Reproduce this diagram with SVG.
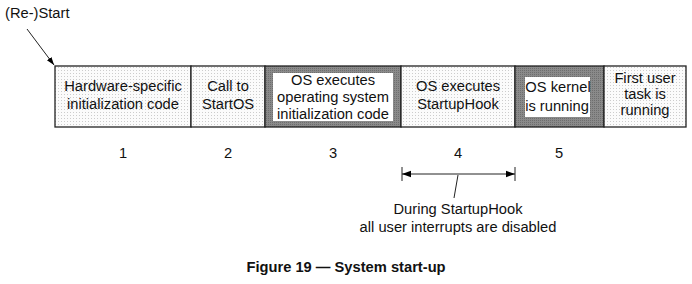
<svg xmlns="http://www.w3.org/2000/svg" width="692" height="284" viewBox="0 0 692 284">
<defs>
<pattern id="dots" width="3" height="3" patternUnits="userSpaceOnUse">
<rect width="3" height="3" fill="#fbfbfb"/>
<rect x="1" y="1" width="1" height="1" fill="#cccccc"/>
</pattern>
<pattern id="dark" width="2" height="2" patternUnits="userSpaceOnUse">
<rect width="2" height="2" fill="#8a8a8a"/>
<rect width="1" height="1" fill="#6e6e6e"/>
</pattern>
<marker id="ah" viewBox="0 0 10 10" refX="10" refY="5" markerWidth="8" markerHeight="8" orient="auto-start-reverse" markerUnits="userSpaceOnUse">
<path d="M0,1.5 L10,5 L0,8.5 z" fill="#000"/>
</marker>
<marker id="ah2" viewBox="0 0 10 10" refX="10" refY="5" markerWidth="12" markerHeight="9" orient="auto-start-reverse" markerUnits="userSpaceOnUse">
<path d="M0,1.5 L10,5 L0,8.5 z" fill="#000"/>
</marker>
</defs>
<style>
text{font-family:"Liberation Sans",Arial,sans-serif;font-size:14.7px;fill:#111;text-anchor:middle}
.box{stroke:#222;stroke-width:1.3}
.ln{stroke:#222;stroke-width:1;fill:none}
</style>
<rect width="692" height="284" fill="#fff"/>
<text x="5" y="18" style="text-anchor:start">(Re-)Start</text>
<g id="n1"><rect class="box" x="55" y="66" width="136" height="61" fill="url(#dots)"/>
<text x="123" y="91">Hardware-specific</text><text x="123" y="109">initialization code</text></g>
<g id="n2"><rect class="box" x="191" y="66" width="74" height="61" fill="url(#dots)"/>
<text x="228" y="91">Call to</text><text x="228" y="109">StartOS</text></g>
<g id="n3"><rect class="box" x="265" y="66" width="136" height="61" fill="url(#dark)"/>
<rect x="273" y="73" width="120" height="48" fill="#fff"/>
<text x="333" y="85">OS executes</text><text x="333" y="102">operating system</text><text x="333" y="119">initialization code</text></g>
<g id="n4"><rect class="box" x="401" y="66" width="114" height="61" fill="url(#dots)"/>
<text x="458" y="91">OS executes</text><text x="458" y="109">StartupHook</text></g>
<g id="n5"><rect class="box" x="515" y="66" width="89" height="61" fill="url(#dark)"/>
<rect x="525" y="77" width="65" height="40" fill="#fff"/>
<text x="558" y="92">OS kernel</text><text x="557" y="111">is running</text></g>
<g id="n6"><rect class="box" x="604" y="66" width="82" height="61" fill="url(#dots)"/>
<text x="645" y="83">First user</text><text x="645" y="99">task is</text><text x="645" y="115">running</text></g>
<g id="labels">
<text x="123" y="158">1</text><text x="228" y="158">2</text><text x="333" y="158">3</text><text x="458" y="158">4</text><text x="559" y="158">5</text>
<text x="458" y="214">During StartupHook</text>
<text x="458" y="232">all user interrupts are disabled</text>
<text x="346" y="272" style="font-weight:bold">Figure 19 — System start-up</text>
</g>
<g id="connectors">
<line class="ln" x1="27" y1="29" x2="54" y2="65" marker-end="url(#ah)"/>
<line class="ln" x1="402" y1="167" x2="402" y2="181"/>
<line class="ln" x1="515" y1="167" x2="515" y2="181"/>
<line class="ln" x1="402" y1="174" x2="515" y2="174" marker-start="url(#ah2)" marker-end="url(#ah2)"/>
<line class="ln" x1="458" y1="175" x2="454" y2="198"/>
</g>
</svg>
